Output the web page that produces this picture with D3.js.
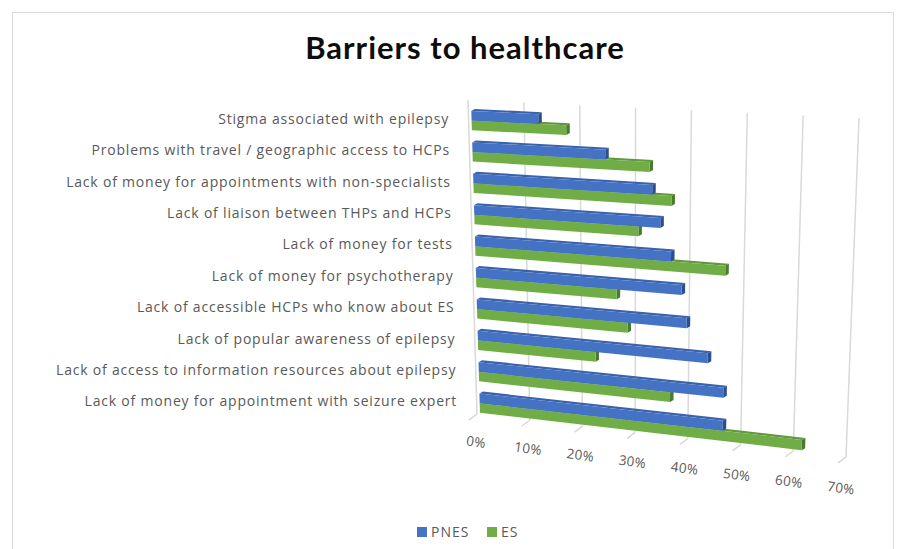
<!DOCTYPE html>
<html><head><meta charset="utf-8">
<script src="https://cdn.jsdelivr.net/npm/d3@7"></script>
<style>
html,body{margin:0;padding:0;background:#fff;}
svg{display:block;}
</style></head><body>
<svg id="chart" width="908" height="549"></svg>
<script>
// ---- data ----
const categories = [
  "Stigma associated with epilepsy",
  "Problems with travel / geographic access to HCPs",
  "Lack of money for appointments with non-specialists",
  "Lack of liaison between THPs and HCPs",
  "Lack of money for tests",
  "Lack of money for psychotherapy",
  "Lack of accessible HCPs who know about ES",
  "Lack of popular awareness of epilepsy",
  "Lack of access to information resources about epilepsy",
  "Lack of money for appointment with seizure expert"
];
const seriesNames = ["PNES", "ES"];
const pnesValues = [12, 24, 32.5, 34, 36, 38, 39, 43, 46, 46];
const esValues   = [17, 32, 36, 30, 46, 26, 28, 22, 36, 61];
const tickValues = [0, 10, 20, 30, 40, 50, 60, 70];
const titleText = "Barriers to healthcare";

// ---- layout ----
const svg = d3.select("#chart");
const labelFont = "'Open Sans', 'Noto Sans', sans-serif";
const wall = {tl: [468, 100], tr: [859, 118], bl: [477, 414], br: [846, 457]};
const axisLabelLine = {a: [476, 442], b: [841, 488]};
const lerp = (a, b, t) => [a[0] + (b[0] - a[0]) * t, a[1] + (b[1] - a[1]) * t];
function project(u, r) {
  const top = lerp(wall.tl, wall.tr, u), bot = lerp(wall.bl, wall.br, u);
  return lerp(top, bot, r);
}
const add = (p, d) => [p[0] + d[0], p[1] + d[1]];

const xScale = d3.scaleLinear().domain([0, 70]).range([0, 1]);
const rowScale = d3.scaleBand().domain(categories).range([0, 1]);
const barScale = d3.scaleBand().domain(seriesNames).range([0.35, 0.96]);
const fill = {PNES: "#4472C4", ES: "#70AD47"};
const topFill = {PNES: "#3A63AC", ES: "#62993D"};
const endFill = {PNES: "#2B4E8C", ES: "#4A7A2E"};
const barOff = [3, 0], depth = [3.5, -2];

// border
svg.append("rect").attr("x", 12.5).attr("y", 12.5).attr("width", 881).attr("height", 580)
  .attr("fill", "none").attr("stroke", "#d9d9d9").attr("stroke-width", 1);

// title
svg.append("text").attr("x", 465).attr("y", 59).attr("text-anchor", "middle")
  .style("font-family", "Lato, 'Open Sans', sans-serif").style("font-weight", "bold")
  .style("font-size", "31px").style("letter-spacing", "1px").attr("fill", "#0d0d0d").text(titleText);

// gridlines (back wall)
const grid = svg.append("g");
tickValues.forEach(t => {
  const u = xScale(t);
  const p0 = project(u, 0), p1 = project(u, 1);
  grid.append("line").attr("x1", p0[0]).attr("y1", p0[1]).attr("x2", p1[0]).attr("y2", p1[1])
    .attr("stroke", "#d9d9d9").attr("stroke-width", 1.5);
  const f = add(p1, [-8, 6]);
  grid.append("line").attr("x1", p1[0]).attr("y1", p1[1]).attr("x2", f[0]).attr("y2", f[1])
    .attr("stroke", "#d0d0d0").attr("stroke-width", 1.2);
  const lp = lerp(axisLabelLine.a, axisLabelLine.b, u);
  grid.append("text").attr("transform", `translate(${lp[0]},${lp[1]}) rotate(8)`)
    .attr("text-anchor", "middle").attr("dy", "0.35em")
    .style("font-family", labelFont).style("font-size", "13.5px").style("letter-spacing", "0.3px")
    .attr("fill", "#595959")
    .text(d3.format(".0%")(t / 100));
});

// bars
const rows = categories.map((c, i) => ({cat: c, PNES: pnesValues[i], ES: esValues[i]}));
const line = d3.line();
const barsG = svg.append("g");
rows.forEach(row => {
  ["ES", "PNES"].forEach(s => {
    const r0 = rowScale(row.cat) + barScale(s) * rowScale.bandwidth();
    const r1 = r0 + barScale.bandwidth() * rowScale.bandwidth();
    const u = xScale(row[s]);
    const f0 = add(project(0, r0), barOff), f1 = add(project(u, r0), barOff),
          f2 = add(project(u, r1), barOff), f3 = add(project(0, r1), barOff);
    barsG.append("path").attr("d", line([f0, f1, add(f1, depth), add(f0, depth)]) + "Z").attr("fill", topFill[s]);
    barsG.append("path").attr("d", line([f1, add(f1, depth), add(f2, depth), f2]) + "Z").attr("fill", endFill[s]);
    barsG.append("path").attr("d", line([f0, f1, f2, f3]) + "Z").attr("fill", fill[s]);
  });
});

// category labels
const labG = svg.append("g");
categories.forEach(c => {
  const r = rowScale(c) + 0.6 * rowScale.bandwidth();
  const p = project(0, r);
  labG.append("text").attr("x", p[0] - 19.5).attr("y", p[1]).attr("dy", "0.35em")
    .attr("text-anchor", "end").style("font-family", labelFont).style("font-size", "14px")
    .style("letter-spacing", "0.8px").attr("fill", "#595959").text(c);
});

// legend
const leg = svg.append("g");
const legX = [417, 487];
seriesNames.forEach((s, i) => {
  leg.append("rect").attr("x", legX[i]).attr("y", 527).attr("width", 10).attr("height", 10).attr("fill", fill[s]);
  leg.append("text").attr("x", legX[i] + 14).attr("y", 532).attr("dy", "0.35em")
    .style("font-family", labelFont).style("font-size", "14px").style("letter-spacing", "1px")
    .attr("fill", "#595959").text(s);
});
</script>
</body></html>
